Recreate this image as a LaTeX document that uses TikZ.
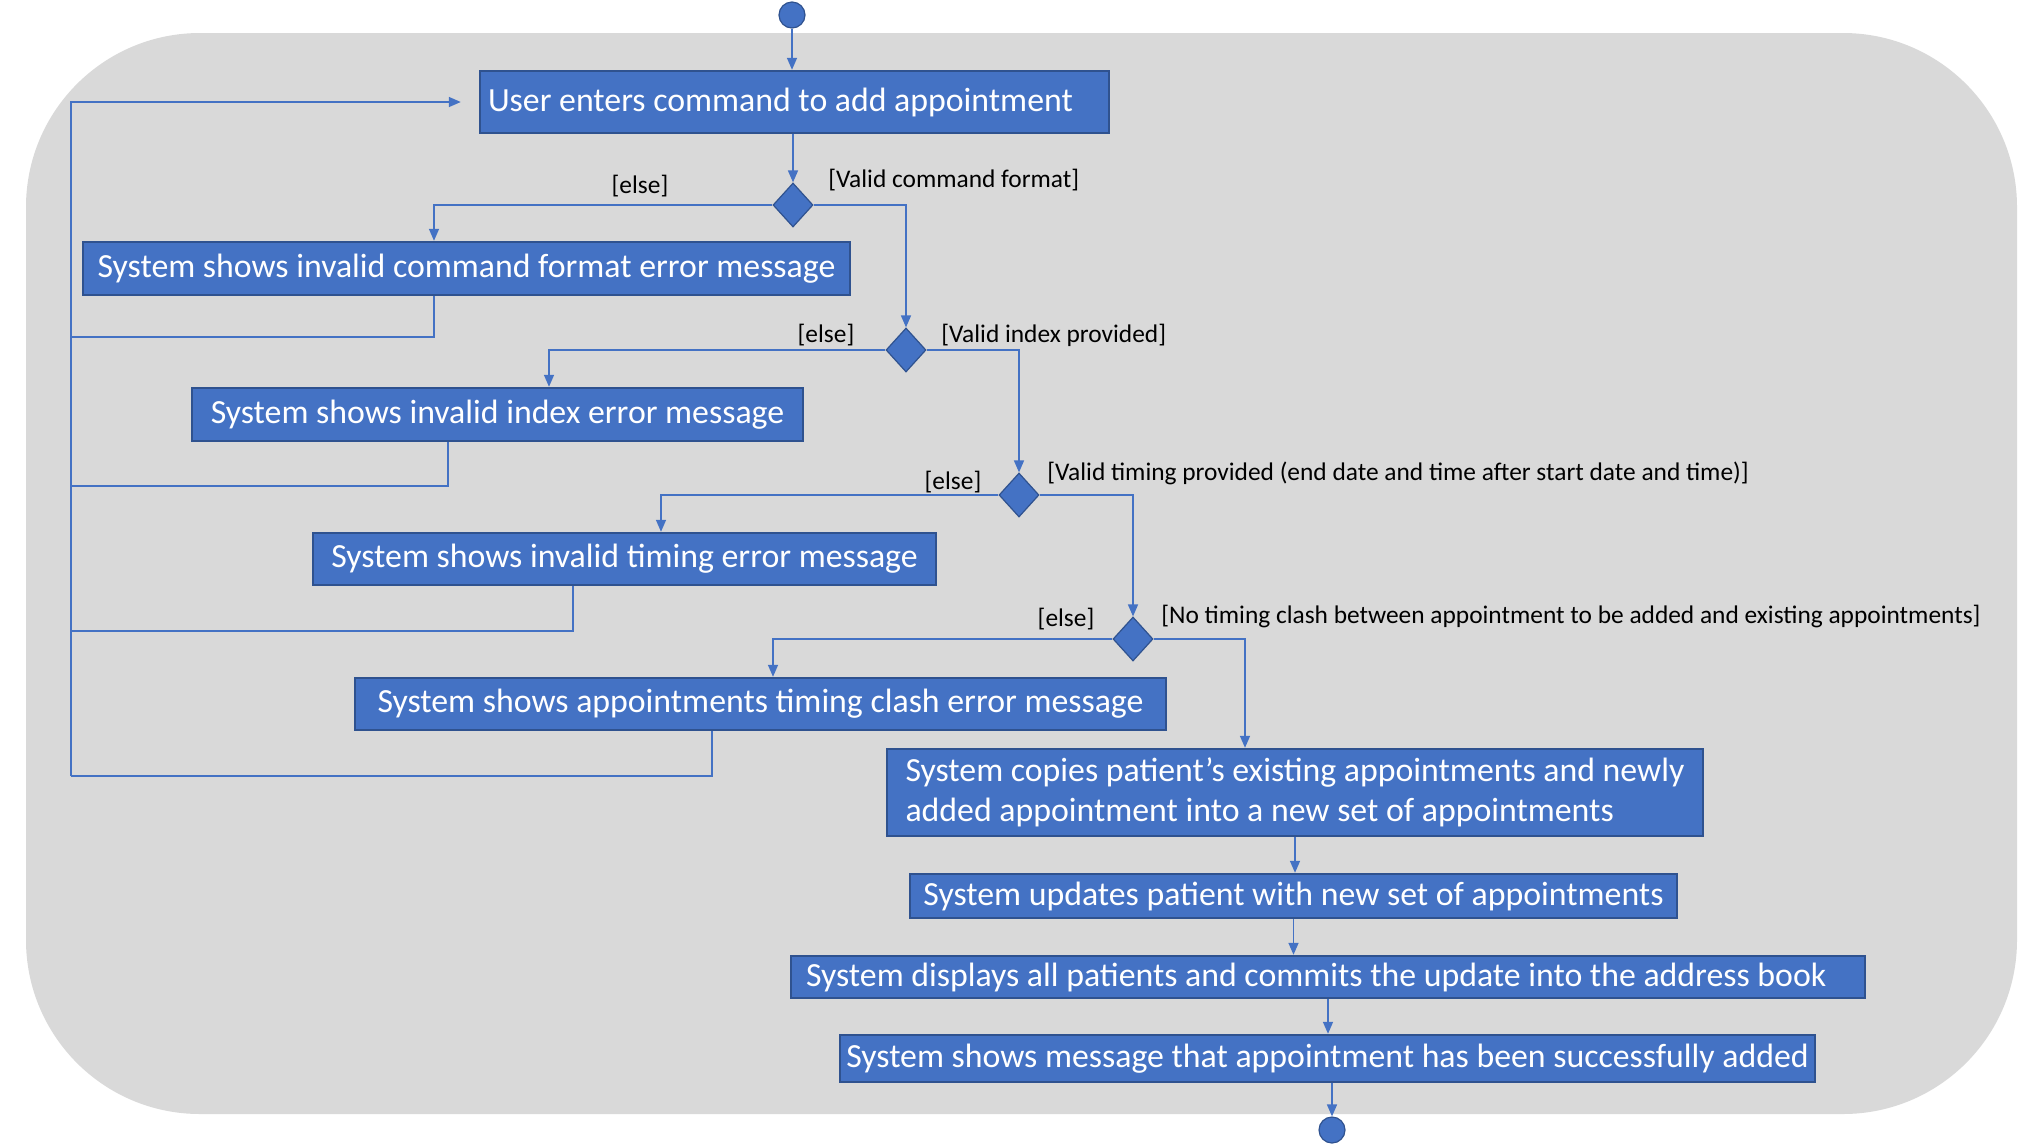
\documentclass[tikz,border=0pt]{standalone}
\usepackage{fontspec}
\setmainfont{Carlito}
\usetikzlibrary{arrows.meta, shapes.geometric}
\definecolor{ActBlue}{HTML}{4472C4}
\definecolor{ActEdge}{HTML}{2F528F}
\definecolor{PanelGray}{HTML}{D9D9D9}

\begin{document}
\begin{tikzpicture}[x=0.5pt, y=-0.5pt]
        \tikzstyle{act} = [rectangle, draw=ActEdge, line width=1.2pt, fill=ActBlue, text=white,
          inner sep=0pt, align=center, font=\fontsize{16.9}{20}\selectfont]
        \tikzstyle{decision} = [diamond, draw=ActEdge, line width=0.6pt, fill=ActBlue,
          inner sep=0pt, minimum width=20pt, minimum height=22pt]
        \tikzstyle{dot} = [circle, draw=ActEdge, line width=0.6pt, fill=ActBlue, minimum size=13pt, inner sep=0pt]
        \tikzstyle{guard} = [inner sep=0pt, font=\fontsize{12.7}{15}\selectfont]
        \tikzstyle{link} = [draw=ActBlue, line width=0.75pt]
        \tikzstyle{flow} = [link, -{Triangle[length=6pt, width=5pt]}]

        \useasboundingbox (0,0) rectangle (2035,1147);
        \fill[PanelGray, rounded corners=87pt] (26,33) rectangle (2017,1114);

        % start and end
        \node[dot] (start) at (792,15) {};
        \node[dot] (end) at (1332,1130) {};

        % activities
        \node[act, minimum height=31pt, text width=306.5pt, inner xsep=4pt, align=flush left] (box1) at (794.5,102)
          {User enters command to add appointment};
        \node[act, minimum width=383.5pt, minimum height=26.5pt] (box2) at (466.5,268.5)
          {System shows invalid command format error message};
        \node[act, minimum width=305.5pt, minimum height=26.5pt] (box3) at (497.5,414.5)
          {System shows invalid index error message};
        \node[act, minimum width=311.5pt, minimum height=26pt] (box4) at (624.5,559)
          {System shows invalid timing error message};
        \node[act, minimum width=405.5pt, minimum height=26pt] (box5) at (760.5,704)
          {System shows appointments timing clash error message};
        \node[act, minimum width=408pt, minimum height=43.5pt, align=left] (box6) at (1295,792.5)
          {System copies patient’s existing appointments and newly\\added appointment into a new set of appointments};
        \node[act, minimum width=383.5pt, minimum height=22pt] (box7) at (1293.5,896)
          {System updates patient with new set of appointments};
        \node[act, minimum height=21pt, text width=522pt, inner xsep=7.5pt, align=flush left] (box8) at (1328,977)
          {System displays all patients and commits the update into the address book};
        \node[act, minimum width=487.5pt, minimum height=23.5pt] (box9) at (1327.5,1058.5)
          {System shows message that appointment has been successfully added};

        % decisions
        \node[decision] (d1) at (793,205) {};
        \node[decision] (d2) at (906,350) {};
        \node[decision] (d3) at (1019,495) {};
        \node[decision] (d4) at (1133,639) {};

        % guards
        \node[guard] (e1) at (640,186) {[else]};
        \node[guard, anchor=west] (g1) at (828,180) {[Valid command format]};
        \node[guard] (e2) at (826,335) {[else]};
        \node[guard, anchor=west] (g2) at (941,335) {[Valid index provided]};
        \node[guard] (e3) at (953,482) {[else]};
        \node[guard, anchor=west] (g3) at (1047,473) {[Valid timing provided (end date and time after start date and time)]};
        \node[guard] (e4) at (1066,619) {[else]};
        \node[guard, anchor=west] (g4) at (1161,616) {[No timing clash between appointment to be added and existing appointments]};

        % entry and exit points
        \coordinate (in2) at (434,0);
        \coordinate (in3) at (549,0);
        \coordinate (in4) at (661,0);
        \coordinate (in5) at (773,0);
        \coordinate (in6) at (1245,0);
        \coordinate (out2) at (434,337);
        \coordinate (out3) at (448,486);
        \coordinate (out4) at (573,631);
        \coordinate (out5) at (712,776);
        \coordinate (rail) at (71,0);

        % main flow
        \draw[flow] (start) -- (start |- box1.north);
        \draw[flow] (box1.south -| d1) -- (d1.north);
        \draw[flow] (d1.west) -| (box2.north -| in2);
        \draw[flow] (d1.east) -| (d2.north);
        \draw[flow] (d2.west) -| (box3.north -| in3);
        \draw[flow] (d2.east) -| (d3.north);
        \draw[flow] (d3.west) -| (box4.north -| in4);
        \draw[flow] (d3.east) -| (d4.north);
        \draw[flow] (d4.west) -| (box5.north -| in5);
        \draw[flow] (d4.east) -| (box6.north -| in6);
        \draw[flow] (box6.south) -- (box6.south |- box7.north);
        \draw[flow] (box7.south) -- (box7.south |- box8.north);
        \draw[flow] (box8.south) -- (box8.south |- box9.north);
        \draw[flow] (end |- box9.south) -- (end.north);

        % back to the start
        \foreach \b/\o in {box2/out2, box3/out3, box4/out4, box5/out5}
          \draw[link] (\b.south -| \o) |- (rail |- \o);
        \draw[flow] (rail |- out5) |- ([xshift=-9pt]box1.west);
      \end{tikzpicture}
\end{document}
